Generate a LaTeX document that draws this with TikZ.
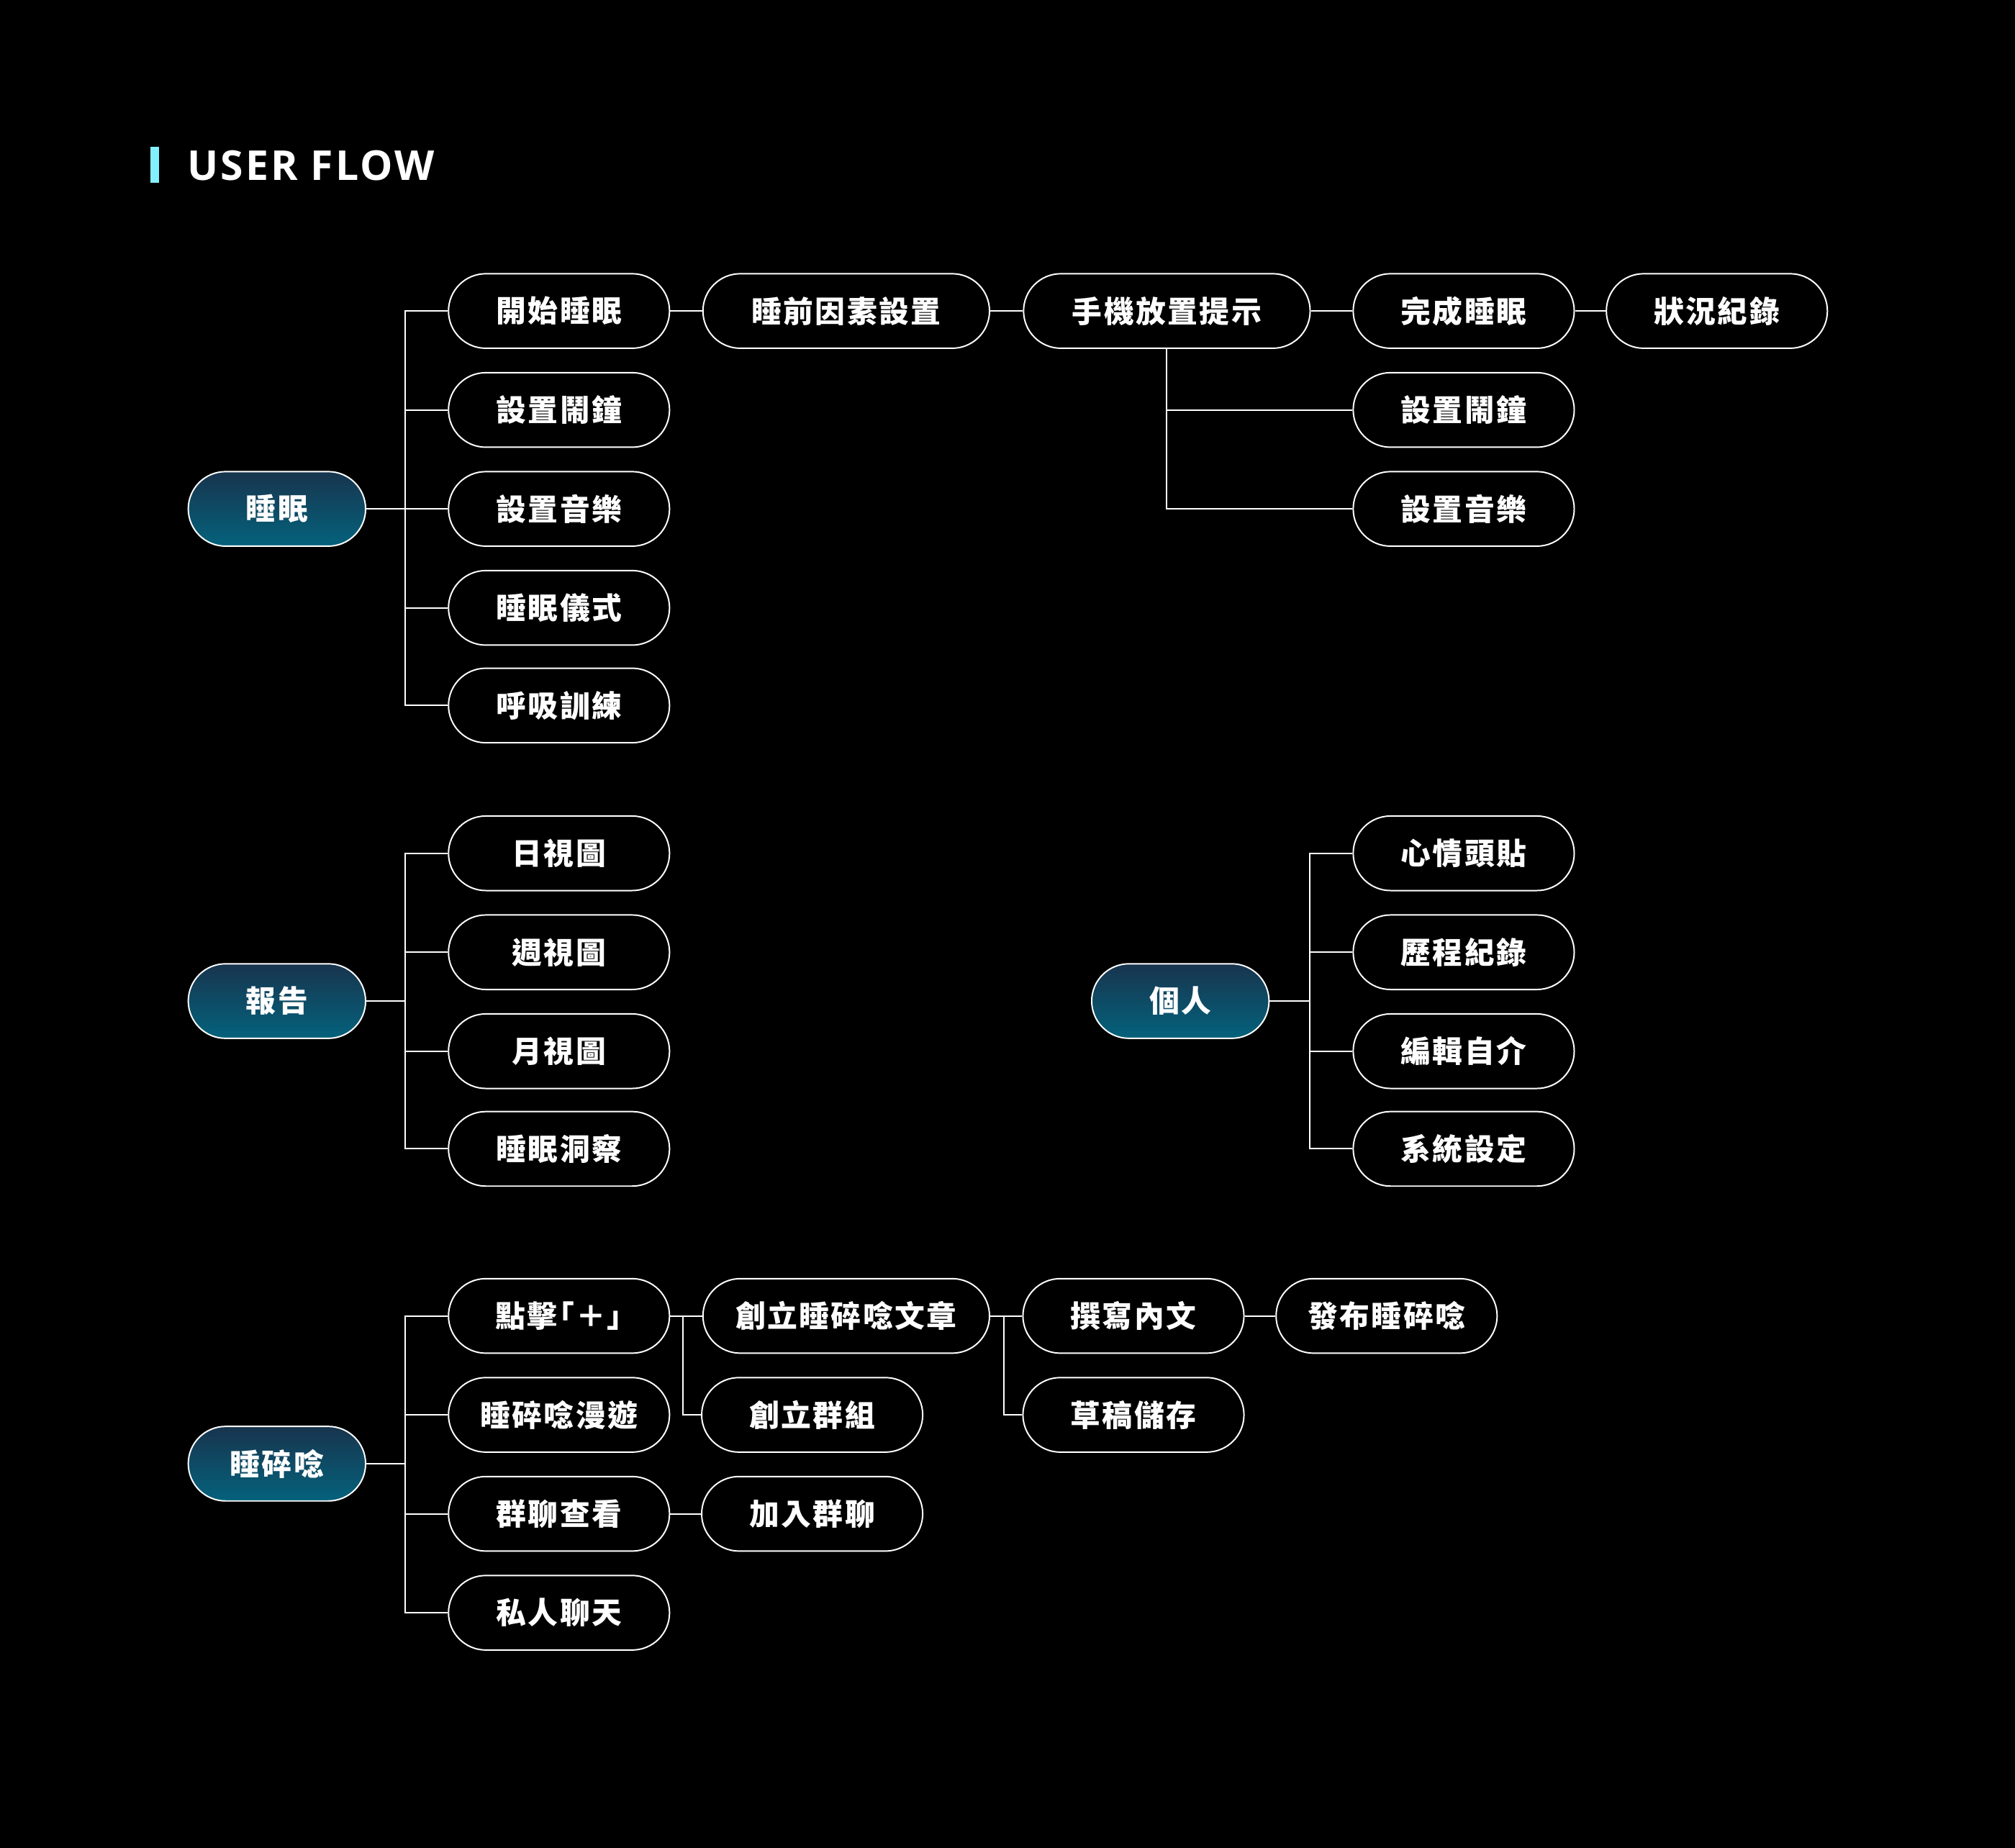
\documentclass[tikz,border=0pt]{standalone}
\usepackage{fontspec}
\newfontfamily\cjk{Noto Sans CJK TC}[LetterSpace=6]
\newfontfamily\cjkp{Noto Sans CJK TC}[LetterSpace=6,RawFeature=+palt]
\newfontfamily\titlefont{Open Sans}[LetterSpace=5.5]
\definecolor{cyanbar}{RGB}{130,240,255}
\definecolor{gtop}{RGB}{24,52,78}
\definecolor{gbot}{RGB}{4,98,124}
\tikzset{
  pill/.style={draw=white, line width=1.1pt, rounded corners=29pt, minimum width=172pt,
    minimum height=58pt, inner sep=0pt, text=white, fill=black,
    font=\cjk\bfseries\fontsize{23.4}{23.4}\selectfont},
  rootpill/.style={pill, minimum width=138pt, top color=gtop, bottom color=gbot},
  widepill/.style={pill, minimum width=223pt},
  link/.style={draw=white, line width=1.1pt},
}
\begin{document}
\begin{tikzpicture}[x=1pt,y=-1pt]
\fill[black] (0,0) rectangle (1568,1438);
\useasboundingbox (0,0) rectangle (1568,1438);
% title
\fill[cyanbar] (117,114) rectangle (124,142);
\node[anchor=base west, inner sep=0pt, text=white, font=\titlefont\bfseries\fontsize{32}{32}\selectfont] (title) at (145.5,140.5) {USER FLOW};

% group 1
\node[rootpill] (s0) at (215.5,396) {睡眠};
\node[pill] (s1) at (435,242) {開始睡眠};
\node[pill] (s2) at (435,319) {設置鬧鐘};
\node[pill] (s3) at (435,396) {設置音樂};
\node[pill] (s4) at (435,473) {睡眠儀式};
\node[pill] (s5) at (435,549) {呼吸訓練};
\node[widepill] (s6) at (658.5,242) {睡前因素設置};
\node[widepill] (s7) at (908,242) {手機放置提示};
\node[pill] (s8) at (1139,242) {完成睡眠};
\node[pill] (s9) at (1336,242) {狀況紀錄};
\node[pill] (s10) at (1139,319) {設置鬧鐘};
\node[pill] (s11) at (1139,396) {設置音樂};
\foreach \c in {s1,s2,s3,s4,s5}{\draw[link] (\c.west) -- ++(-33,0) |- (s0.east);}
\draw[link] (s1) -- (s6);
\draw[link] (s6) -- (s7);
\draw[link] (s7) -- (s8);
\draw[link] (s8) -- (s9);
\draw[link] (s10.west) -| (s7.south);
\draw[link] (s11.west) -| (s7.south);

% group 2
\node[rootpill] (r0) at (215.5,779) {報告};
\node[pill] (r1) at (435,664) {日視圖};
\node[pill] (r2) at (435,741) {週視圖};
\node[pill] (r3) at (435,818) {月視圖};
\node[pill] (r4) at (435,894) {睡眠洞察};
\foreach \c in {r1,r2,r3,r4}{\draw[link] (\c.west) -- ++(-33,0) |- (r0.east);}

% group 3
\node[rootpill] (p0) at (918.5,779) {個人};
\node[pill] (p1) at (1139,664) {心情頭貼};
\node[pill] (p2) at (1139,741) {歷程紀錄};
\node[pill] (p3) at (1139,818) {編輯自介};
\node[pill] (p4) at (1139,894) {系統設定};
\foreach \c in {p1,p2,p3,p4}{\draw[link] (\c.west) -- ++(-33,0) |- (p0.east);}

% group 4
\node[rootpill] (m0) at (215.5,1139) {睡碎唸};
\node[pill, font=\cjkp\bfseries\fontsize{23.4}{23.4}\selectfont] (m1) at (435,1024) {點擊「＋」};
\node[pill] (m2) at (435,1101) {睡碎唸漫遊};
\node[pill] (m3) at (435,1178) {群聊查看};
\node[pill] (m4) at (435,1255) {私人聊天};
\node[widepill] (m5) at (658.5,1024) {創立睡碎唸文章};
\node[pill] (m6) at (632,1101) {創立群組};
\node[pill] (m7) at (632,1178) {加入群聊};
\node[pill] (m8) at (882,1024) {撰寫內文};
\node[pill] (m9) at (882,1101) {草稿儲存};
\node[pill] (m10) at (1079,1024) {發布睡碎唸};
\foreach \c in {m1,m2,m3,m4}{\draw[link] (\c.west) -- ++(-33,0) |- (m0.east);}
\draw[link] (m1) -- (m5);
\draw[link] (m6.west) -- ++(-14,0) |- (m1.east);
\draw[link] (m3) -- (m7);
\draw[link] (m5) -- (m8);
\draw[link] (m9.west) -- ++(-14,0) |- (m5.east);
\draw[link] (m8) -- (m10);
\end{tikzpicture}
\end{document}
